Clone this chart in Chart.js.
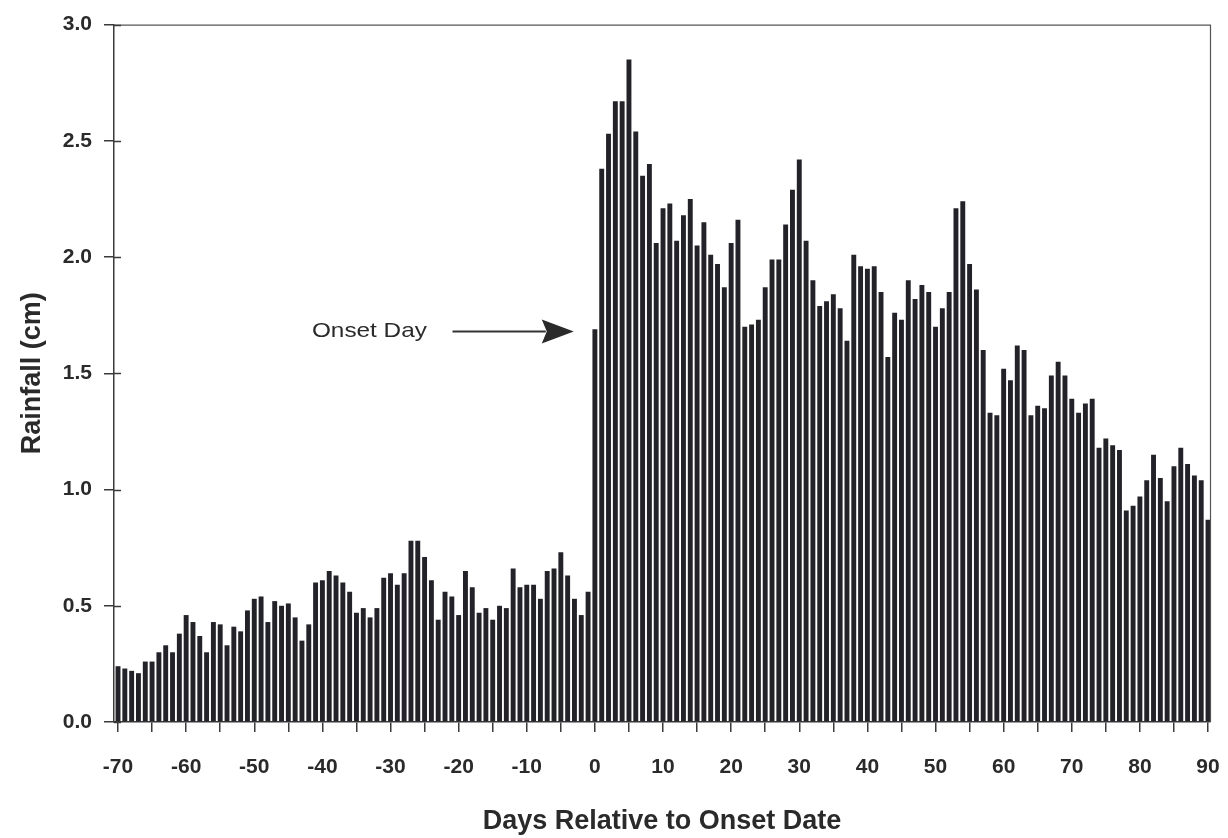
<!DOCTYPE html>
<html>
<head>
<meta charset="utf-8">
<script src="https://cdn.jsdelivr.net/npm/chart.js@4.4.1/dist/chart.umd.min.js"></script>
<style>
  html, body { margin: 0; padding: 0; background: #ffffff; }
  #wrap { position: relative; width: 1228px; height: 838px; }
  canvas { display: block; }
</style>
</head>
<body>
<div id="wrap"><canvas id="c" width="1228" height="838"></canvas></div>
<script>
// Days relative to onset (categories)
const days = [
  -70, -69, -68, -67, -66, -65, -64, -63, -62, -61,
  -60, -59, -58, -57, -56, -55, -54, -53, -52, -51,
  -50, -49, -48, -47, -46, -45, -44, -43, -42, -41,
  -40, -39, -38, -37, -36, -35, -34, -33, -32, -31,
  -30, -29, -28, -27, -26, -25, -24, -23, -22, -21,
  -20, -19, -18, -17, -16, -15, -14, -13, -12, -11,
  -10, -9, -8, -7, -6, -5, -4, -3, -2, -1,
  0, 1, 2, 3, 4, 5, 6, 7, 8, 9,
  10, 11, 12, 13, 14, 15, 16, 17, 18, 19,
  20, 21, 22, 23, 24, 25, 26, 27, 28, 29,
  30, 31, 32, 33, 34, 35, 36, 37, 38, 39,
  40, 41, 42, 43, 44, 45, 46, 47, 48, 49,
  50, 51, 52, 53, 54, 55, 56, 57, 58, 59,
  60, 61, 62, 63, 64, 65, 66, 67, 68, 69,
  70, 71, 72, 73, 74, 75, 76, 77, 78, 79,
  80, 81, 82, 83, 84, 85, 86, 87, 88, 89,
  90
];

// Rainfall (cm) for each day
const rainfall = [
  0.24, 0.23, 0.22, 0.21, 0.26, 0.26, 0.30, 0.33, 0.30, 0.38,
  0.46, 0.43, 0.37, 0.30, 0.43, 0.42, 0.33, 0.41, 0.39, 0.48,
  0.53, 0.54, 0.43, 0.52, 0.50, 0.51, 0.45, 0.35, 0.42, 0.60,
  0.61, 0.65, 0.63, 0.60, 0.56, 0.47, 0.49, 0.45, 0.49, 0.62,
  0.64, 0.59, 0.64, 0.78, 0.78, 0.71, 0.61, 0.44, 0.56, 0.54,
  0.46, 0.65, 0.58, 0.47, 0.49, 0.44, 0.50, 0.49, 0.66, 0.58,
  0.59, 0.59, 0.53, 0.65, 0.66, 0.73, 0.63, 0.53, 0.46, 0.56,
  1.69, 2.38, 2.53, 2.67, 2.67, 2.85, 2.54, 2.35, 2.40, 2.06,
  2.21, 2.23, 2.07, 2.18, 2.25, 2.05, 2.15, 2.01, 1.97, 1.87,
  2.06, 2.16, 1.70, 1.71, 1.73, 1.87, 1.99, 1.99, 2.14, 2.29,
  2.42, 2.07, 1.90, 1.79, 1.81, 1.84, 1.78, 1.64, 2.01, 1.96,
  1.95, 1.96, 1.85, 1.57, 1.76, 1.73, 1.90, 1.82, 1.88, 1.85,
  1.70, 1.78, 1.85, 2.21, 2.24, 1.97, 1.86, 1.60, 1.33, 1.32,
  1.52, 1.47, 1.62, 1.60, 1.32, 1.36, 1.35, 1.49, 1.55, 1.49,
  1.39, 1.33, 1.37, 1.39, 1.18, 1.22, 1.19, 1.17, 0.91, 0.93,
  0.97, 1.04, 1.15, 1.05, 0.95, 1.10, 1.18, 1.11, 1.06, 1.04,
  0.87
];

// Tick positions on the x axis (every 5 days, labelled every 10)
const xTickDays = [-70, -65, -60, -55, -50, -45, -40, -35, -30, -25, -20, -15, -10, -5,
  0, 5, 10, 15, 20, 25, 30, 35, 40, 45, 50, 55, 60, 65, 70, 75, 80, 85, 90];
const yTickValues = [0, 0.5, 1.0, 1.5, 2.0, 2.5, 3.0];

// Annotation text
const annotationText = 'Onset Day';

const FONT = "'Liberation Sans', Arial, sans-serif";
const TEXT = '#2a2a2a';
const AXIS = '#3a3a3a';

const frameAndAnnotation = {
  id: 'frameAndAnnotation',
  afterDatasetsDraw(chart) {
    const { ctx, chartArea: a, scales: { x, y } } = chart;
    ctx.save();
    // top + right frame
    ctx.strokeStyle = '#555';
    ctx.lineWidth = 1.2;
    ctx.beginPath();
    ctx.moveTo(a.left, a.top + 0.5);
    ctx.lineTo(a.right + 0.5, a.top + 0.5);
    ctx.lineTo(a.right + 0.5, a.bottom);
    ctx.stroke();
    // inner part of y tick marks (they cross the axis)
    ctx.strokeStyle = AXIS;
    ctx.lineWidth = 1.5;
    yTickValues.forEach(v => {
      const py = Math.round(y.getPixelForValue(v)) + 0.5;
      ctx.beginPath();
      ctx.moveTo(a.left, py);
      ctx.lineTo(a.left + 7, py);
      ctx.stroke();
    });
    // annotation: "Onset Day" with arrow pointing at day 0
    const yy = y.getPixelForValue(1.68);
    const textCx = x.getPixelForValue(-33.1);
    const lineStart = x.getPixelForValue(-20.9);
    const tip = x.getPixelForValue(-3.1);
    ctx.fillStyle = TEXT;
    ctx.font = "21px " + FONT;
    ctx.textAlign = 'center';
    ctx.textBaseline = 'middle';
    const w = ctx.measureText(annotationText).width;
    const sx = 115 / w;
    ctx.save();
    ctx.translate(textCx, yy);
    ctx.scale(sx, 1);
    ctx.fillText(annotationText, 0, 0);
    ctx.restore();
    ctx.strokeStyle = '#333';
    ctx.lineWidth = 2;
    ctx.beginPath();
    ctx.moveTo(lineStart, yy);
    ctx.lineTo(tip - 28, yy);
    ctx.stroke();
    ctx.fillStyle = '#2a2a2a';
    ctx.beginPath();
    ctx.moveTo(tip, yy);
    ctx.lineTo(tip - 32, yy - 12);
    ctx.lineTo(tip - 27, yy);
    ctx.lineTo(tip - 32, yy + 12);
    ctx.closePath();
    ctx.fill();
    ctx.restore();
  }
};

new Chart(document.getElementById('c'), {
  type: 'bar',
  data: {
    datasets: [{
      data: days.map((d, i) => ({ x: d, y: rainfall[i] })),
      backgroundColor: '#232229',
      borderWidth: 0,
      barPercentage: 1.0,
      categoryPercentage: 0.72,
      clip: false
    }]
  },
  options: {
    responsive: false,
    animation: false,
    devicePixelRatio: 1,
    layout: { padding: { left: 0, right: 18, top: 20, bottom: 0 } },
    plugins: { legend: { display: false }, tooltip: { enabled: false } },
    scales: {
      x: {
        type: 'linear',
        offset: false,
        min: -70.59,
        max: 90.29,
        afterBuildTicks: (axis) => { axis.ticks = xTickDays.map(v => ({ value: v })); },
        afterFit: (axis) => { axis.height = 116; axis.paddingLeft = 0; axis.paddingRight = 0; },
        grid: { offset: false, drawOnChartArea: false, drawTicks: true, tickLength: 10, color: AXIS, lineWidth: 1.5 },
        border: { display: true, color: AXIS, width: 1.5 },
        ticks: {
          autoSkip: false, maxRotation: 0, minRotation: 0, padding: 23,
          color: TEXT,
          font: { family: FONT, size: 21, weight: 'bold' },
          callback: (v) => (v % 10 === 0 ? String(v) : '')
        },
        title: {
          display: true,
          text: 'Days Relative to Onset Date',
          color: TEXT,
          font: { family: FONT, size: 27, weight: 'bold' },
          padding: { top: 0, bottom: 0 }
        }
      },
      y: {
        min: 0,
        max: 3,
        afterBuildTicks: (axis) => { axis.ticks = yTickValues.map(v => ({ value: v })); },
        afterFit: (axis) => { axis.width = 114; },
        grid: { offset: false, drawOnChartArea: false, drawTicks: true, tickLength: 10, color: AXIS, lineWidth: 1.5 },
        border: { display: true, color: AXIS, width: 1.5 },
        ticks: {
          padding: 12,
          color: TEXT,
          font: { family: FONT, size: 21, weight: 'bold' },
          callback: (v) => Number(v).toFixed(1)
        },
        title: {
          display: true,
          text: 'Rainfall (cm)',
          color: TEXT,
          font: { family: FONT, size: 27, weight: 'bold' },
          padding: { top: 16, bottom: 0 }
        }
      }
    }
  },
  plugins: [frameAndAnnotation]
});
</script>
</body>
</html>
